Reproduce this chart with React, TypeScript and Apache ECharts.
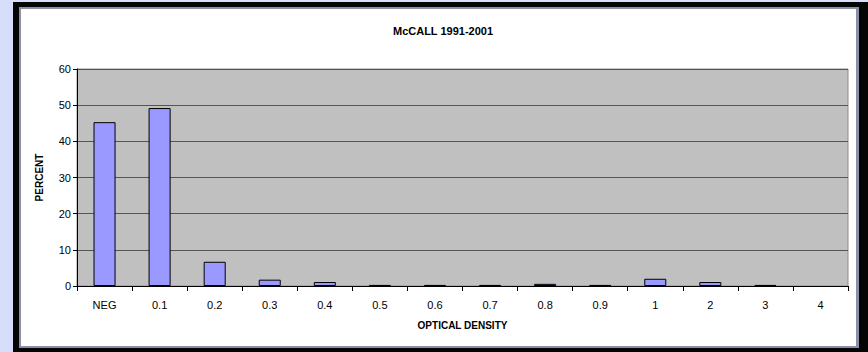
import React, { useEffect, useRef } from "react";
import * as echarts from "echarts";

const categories = ["NEG", "0.1", "0.2", "0.3", "0.4", "0.5", "0.6", "0.7", "0.8", "0.9", "1", "2", "3", "4"];
const percentValues = [45.3, 49.2, 6.7, 1.75, 1.1, 0.3, 0.3, 0.3, 0.6, 0.3, 2.0, 1.1, 0.3, 0];
const yTicks = { min: 0, max: 60, interval: 10 };

const FONT = "'Liberation Sans', Arial, sans-serif";

export default function App() {
  const ref = useRef<HTMLDivElement>(null);

  useEffect(() => {
    if (!ref.current) return;
    const chart = echarts.init(ref.current, undefined, { renderer: "svg" });
    // empty categories get no outline, so no stray line sits on the axis
    const barData = percentValues.map((v) =>
      v === 0 ? { value: v, itemStyle: { borderWidth: 0 } } : v
    );
    chart.setOption({
      animation: false,
      backgroundColor: "#d6defb",
      graphic: [
        { type: "rect", z: -10, shape: { x: 13, y: 2, width: 855, height: 350 }, style: { fill: "#050505" } },
        { type: "rect", z: -9, shape: { x: 19, y: 7, width: 840, height: 341 }, style: { fill: "#8a90a8" } },
        { type: "rect", z: -8, shape: { x: 21, y: 9, width: 835, height: 337 }, style: { fill: "#ffffff" } },
      ],
      title: {
        text: "McCALL 1991-2001",
        left: 438,
        textAlign: "center",
        top: 20,
        textStyle: { fontFamily: FONT, fontSize: 11, fontWeight: "bold", color: "#000" },
      },
      grid: {
        left: 77,
        top: 69,
        width: 771,
        height: 217,
        show: true,
        backgroundColor: "#c0c0c0",
        borderColor: "#8c8c8c",
        borderWidth: 1,
      },
      xAxis: {
        type: "category",
        data: categories,
        boundaryGap: true,
        name: "OPTICAL DENSITY",
        nameLocation: "middle",
        nameGap: 34,
        nameTextStyle: { fontFamily: FONT, fontSize: 10, fontWeight: "bold", color: "#000" },
        axisLine: { lineStyle: { color: "#000", width: 1 } },
        axisTick: { show: true, alignWithLabel: false, length: 5, lineStyle: { color: "#000" } },
        axisLabel: { fontFamily: FONT, fontSize: 11, color: "#000", margin: 13, interval: 0 },
        splitLine: { show: false },
      },
      yAxis: {
        type: "value",
        min: yTicks.min,
        max: yTicks.max,
        interval: yTicks.interval,
        name: "PERCENT",
        nameLocation: "middle",
        nameGap: 33,
        nameTextStyle: { fontFamily: FONT, fontSize: 10, fontWeight: "bold", color: "#000" },
        axisLine: { show: true, lineStyle: { color: "#000", width: 1 } },
        axisTick: { show: true, length: 4, lineStyle: { color: "#000" } },
        axisLabel: { fontFamily: FONT, fontSize: 11, color: "#000", margin: 6 },
        splitLine: { show: true, lineStyle: { color: "#555555", width: 1.2 } },
      },
      series: [
        {
          type: "bar",
          data: barData,
          barWidth: "40%",
          itemStyle: { color: "#9999ff", borderColor: "#000", borderWidth: 1 },
        },
      ],
    });
    return () => chart.dispose();
  }, []);

  return (
    <div
      ref={ref}
      style={{ position: "fixed", left: 0, top: 0, width: 868, height: 352 }}
    />
  );
}
